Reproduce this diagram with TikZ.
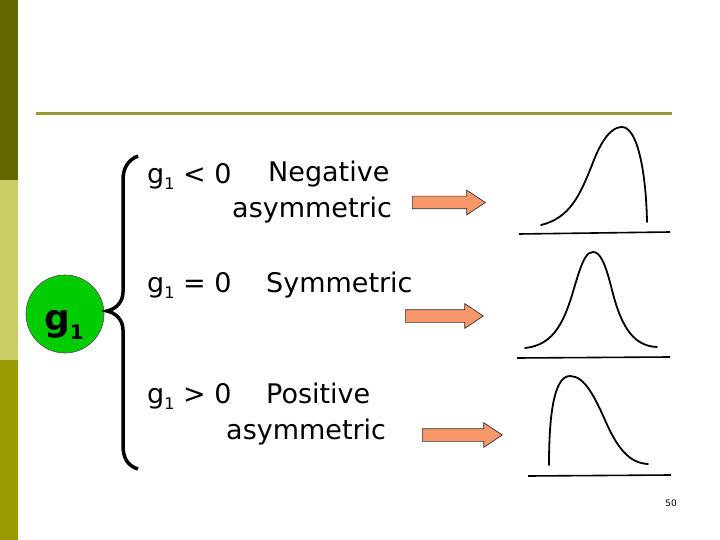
\documentclass[tikz,border=0pt]{standalone}
\usepackage{fontspec}
\setmainfont{DejaVu Sans}
\usetikzlibrary{shapes.arrows}

\definecolor{barDark}{RGB}{102,102,0}
\definecolor{barLight}{RGB}{204,204,102}
\definecolor{barMid}{RGB}{153,153,0}
\definecolor{ruleOlive}{RGB}{153,153,51}
\definecolor{gGreen}{RGB}{0,204,0}
\definecolor{arrowOrange}{RGB}{248,152,106}

% g with small lowered index
\newcommand{\gone}{g\raisebox{-6pt}{\fontsize{16}{16}\selectfont 1}}

\begin{document}
\begin{tikzpicture}[x=1pt, y=-1pt,
    cond/.style={anchor=base west, inner sep=0pt, font=\fontsize{27}{32}\selectfont},
    desc/.style={anchor=base west, inner sep=0pt, font=\fontsize{27}{32}\selectfont},
    gcircle/.style={circle, draw=black!70, fill=gGreen, line width=0.6pt, minimum size=78pt, inner sep=0pt},
    blockarrow/.style={single arrow, draw=black!80, fill=arrowOrange, line width=0.7pt, inner sep=0pt,
        text height=6pt, text depth=6pt, minimum width=24pt, single arrow head extend=6pt,
        single arrow tip angle=67, anchor=west},
    distcurve/.style={line width=1.8pt, line cap=round},
    axisline/.style={line width=1.6pt},
    brace/.style={line width=3.5pt}
]
\useasboundingbox (0,0) rectangle (720,540);

% Side bar and rule
\fill[barDark] (0,0) rectangle (18,180);
\fill[barLight] (0,180) rectangle (18,360);
\fill[barMid] (0,360) rectangle (18,540);
\draw[ruleOlive, line width=3pt] (36,114) -- (672,114);

% Coefficient
\node[gcircle] (gc) at (65,314) {};
\node[anchor=base, inner sep=0pt, font=\fontsize{36}{40}\selectfont\bfseries] (glabel) at (64,330)
    {g\raisebox{-9pt}{\fontsize{20}{20}\selectfont\bfseries 1}};

% Brace
\draw[brace] (138,156) .. controls (128,160) and (123,168) .. (123,180) -- (123,292)
    .. controls (123,302) and (116,309) .. (107,311)
    .. controls (116,313) and (123,320) .. (123,330) -- (123,446)
    .. controls (123,458) and (128,466) .. (138,469);

% Cases
\node[cond] (cneg) at (147,184) {\gone\ < 0};
\node[desc] (dneg) at (268,182) {Negative};
\node[desc] (dnegb) at (232,218) {asymmetric};

\node[cond] (csym) at (147,292) {\gone\ = 0};
\node[desc] (dsym) at (266,292) {Symmetric};

\node[cond] (cpos) at (147,403) {\gone\ > 0};
\node[desc] (dpos) at (266,403) {Positive};
\node[desc] (dposb) at (226,439) {asymmetric};

% Arrows
\node[blockarrow, minimum height=73pt] (aneg) at (412,202.5) {};
\node[blockarrow, minimum height=78pt] (asym) at (405,316) {};
\node[blockarrow, minimum height=80pt] (apos) at (422,435) {};

% Curves
\draw[distcurve] (541,225) .. controls (570,218) and (580,195) .. (592,165)
    .. controls (602,138) and (612,127) .. (622,127)
    .. controls (637,127) and (646,170) .. (647,222);
\draw[axisline] (519,234) -- (670,232);

\draw[distcurve] (525,348) .. controls (555,345) and (565,320) .. (575,285)
    .. controls (583,258) and (587,252) .. (593,252)
    .. controls (600,252) and (605,262) .. (612,290)
    .. controls (622,330) and (635,346) .. (657,347);
\draw[axisline] (517,358) -- (670,357);

\draw[distcurve] (549,465) .. controls (549,420) and (553,376) .. (570,376)
    .. controls (585,376) and (595,398) .. (605,420)
    .. controls (618,450) and (630,463) .. (648,464);
\draw[axisline] (528,476) -- (671,475);

% Page number
\node[font=\fontsize{9}{10}\selectfont, inner sep=0pt] (pnum) at (671,503) {50};

\end{tikzpicture}
\end{document}
